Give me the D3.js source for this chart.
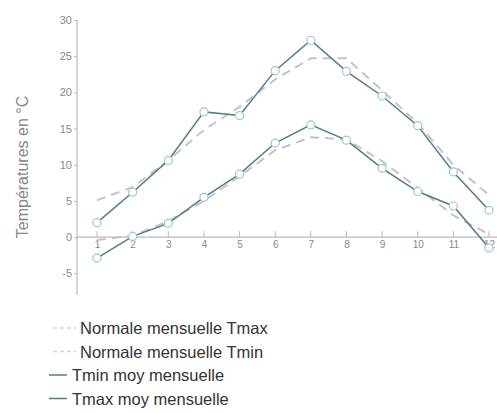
<!DOCTYPE html>
<html lang="fr">
<head>
<meta charset="UTF-8">
<title>Températures mensuelles</title>
<script src="https://d3js.org/d3.v7.min.js"></script>
<style>
  body { margin: 0; background: #fff; font-family: "Liberation Sans", Arial, sans-serif; }
</style>
</head>
<body>
<div id="chart"></div>
<script>
// Months and series (°C)
const months = [1, 2, 3, 4, 5, 6, 7, 8, 9, 10, 11, 12];
const tmaxMoy = [2.0, 6.2, 10.6, 17.3, 16.8, 23.0, 27.2, 22.9, 19.5, 15.4, 9.0, 3.7];
const tminMoy = [-2.9, 0.1, 1.9, 5.5, 8.7, 13.0, 15.5, 13.4, 9.5, 6.3, 4.3, -1.5];
const normTmax = [5.1, 6.9, 10.6, 14.8, 18.0, 21.8, 24.7, 24.7, 20.3, 15.7, 10.0, 5.8];
const normTmin = [-0.4, 0.2, 2.2, 5.0, 8.4, 12.0, 13.8, 13.5, 10.5, 6.8, 3.0, 0.4];
const yTicks = [-5, 0, 5, 10, 15, 20, 25, 30];

const W = 497, H = 413;
const svg = d3.select("#chart").append("svg")
    .attr("width", W).attr("height", H);

// Scales
const x = d3.scaleLinear().domain([1, 12]).range([97, 489]);
const y = d3.scaleLinear().domain([-8, 30]).range([295, 20]);

const lineColor = "#4f7d8c";
const markColor = "#9cc7d3";
const dashColor = "#c4c4c8";

// Y axis
svg.append("g")
    .attr("transform", "translate(77,0)")
    .call(d3.axisLeft(y).tickValues(yTicks).tickFormat(d => String(d)).tickSize(3).tickPadding(2))
    .call(g => g.select(".domain").attr("stroke", "#aaa").attr("d", `M0,${y(-8)}V${y(30)}`))
    .call(g => g.selectAll(".tick line").attr("stroke", "#bbb"))
    .call(g => g.selectAll(".tick text").attr("fill", "#888").attr("font-size", 11));

// X axis at zero
svg.append("g")
    .attr("transform", `translate(0,${y(0)})`)
    .call(d3.axisBottom(x).tickValues(months).tickFormat(d3.format("d")).tickSize(0).tickPadding(4))
    .call(g => g.select(".domain").attr("stroke", "#aaa").attr("d", `M77,0H497`))
    .call(g => g.selectAll(".tick text").attr("fill", "#888").attr("font-size", 10));

// small tick marks above the x axis
svg.append("g").selectAll("line")
    .data(months)
    .join("line")
    .attr("x1", d => x(d)).attr("x2", d => x(d))
    .attr("y1", y(0) - 6).attr("y2", y(0))
    .attr("stroke", "#bbb");

// Y label
svg.append("text")
    .attr("transform", `translate(28,${167}) rotate(-90)`)
    .attr("text-anchor", "middle")
    .attr("fill", "#888")
    .attr("font-size", 16)
    .text("Températures en °C");

const line = d3.line().x((d, i) => x(months[i])).y(d => y(d));

// Normals (dashed)
[normTmax, normTmin].forEach(s => {
  svg.append("path")
      .datum(s)
      .attr("d", line)
      .attr("fill", "none")
      .attr("stroke", dashColor)
      .attr("stroke-width", 2)
      .attr("stroke-dasharray", "9,6");
});

// Measured (solid with open circles)
[tminMoy, tmaxMoy].forEach(s => {
  svg.append("path")
      .datum(s)
      .attr("d", line)
      .attr("fill", "none")
      .attr("stroke", lineColor)
      .attr("stroke-width", 1.5);
  svg.append("g").selectAll("circle")
      .data(s)
      .join("circle")
      .attr("cx", (d, i) => x(months[i]))
      .attr("cy", d => y(d))
      .attr("r", 4)
      .attr("fill", "#fff")
      .attr("stroke", markColor)
      .attr("stroke-width", 1.2);
});

// Legend
const legend = [
  { label: "Normale mensuelle Tmax", dashed: true },
  { label: "Normale mensuelle Tmin", dashed: true },
  { label: "Tmin moy mensuelle", dashed: false },
  { label: "Tmax moy mensuelle", dashed: false }
];
const lg = svg.append("g");
legend.forEach((d, i) => {
  const ly = 328 + i * 23.5;
  if (d.dashed) {
    lg.append("line")
        .attr("x1", 53).attr("x2", 76).attr("y1", ly).attr("y2", ly)
        .attr("stroke", "#d6d6d6").attr("stroke-width", 1.5)
        .attr("stroke-dasharray", "4,3");
    lg.append("text").attr("x", 80).attr("y", ly + 6)
        .attr("font-size", 16.5).attr("fill", "#333").text(d.label);
  } else {
    lg.append("line")
        .attr("x1", 49).attr("x2", 67).attr("y1", ly).attr("y2", ly)
        .attr("stroke", lineColor).attr("stroke-width", 1.5);
    lg.append("text").attr("x", 72).attr("y", ly + 6)
        .attr("font-size", 16.5).attr("fill", "#333").text(d.label);
  }
});
</script>
</body>
</html>
